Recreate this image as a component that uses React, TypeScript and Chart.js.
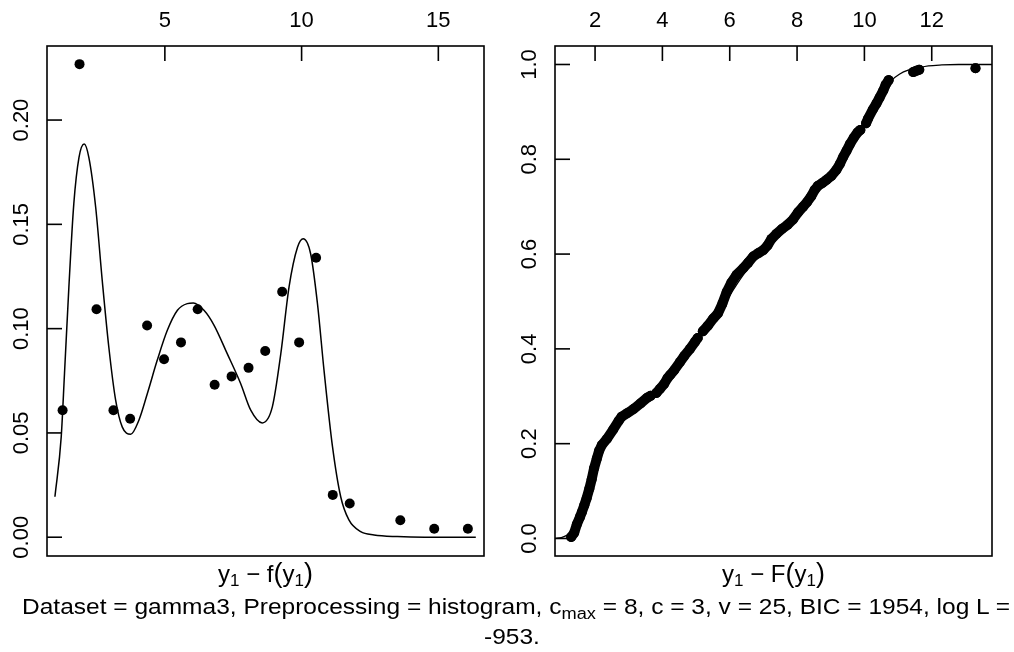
import React, { useEffect, useRef } from "react";
import { Chart, registerables } from "chart.js";

Chart.register(...registerables);

const FONT = '"Liberation Sans", Arial, Helvetica, sans-serif';

// ---------- Left panel: empirical density (histogram bin midpoints) ----------
const binX = [1.26, 1.88, 2.5, 3.12, 3.73, 4.35, 4.97, 5.59, 6.2, 6.82, 7.44, 8.06, 8.67, 9.29, 9.91, 10.53, 11.14, 11.76, 13.61, 14.85, 16.08];
const binY = [0.0609, 0.2268, 0.1093, 0.0609, 0.0568, 0.1015, 0.0853, 0.0934, 0.1093, 0.0731, 0.0771, 0.0812, 0.0893, 0.1177, 0.0934, 0.134, 0.0203, 0.0162, 0.0081, 0.0041, 0.0041];

// fitted mixture density f(y1)
const densX = [0.98, 1.21, 1.33, 1.49, 1.67, 1.86, 2.05, 2.22, 2.47, 2.71, 2.95, 3.2, 3.44, 3.75, 4.05, 4.36, 4.72, 5.09, 5.46, 5.82, 6.04, 6.43, 6.8, 7.28, 7.77, 8.14, 8.56, 8.93, 9.24, 9.54, 9.85, 10.06, 10.33, 10.58, 10.82, 11.13, 11.43, 11.73, 12.16, 12.65, 13.5, 14.5, 16.37];
const densY = [0.0194, 0.0481, 0.0785, 0.1199, 0.1598, 0.1821, 0.1885, 0.1821, 0.1582, 0.1231, 0.0912, 0.0657, 0.0529, 0.0494, 0.0561, 0.0689, 0.0848, 0.0992, 0.1088, 0.112, 0.1123, 0.1088, 0.1016, 0.088, 0.0737, 0.0609, 0.0548, 0.0625, 0.088, 0.1199, 0.139, 0.1431, 0.1359, 0.112, 0.08, 0.0434, 0.0194, 0.0083, 0.0027, 0.0011, 0.0003, 0.0, 0.0];

const leftXTicks = [5, 10, 15];
const leftXLabels = ["5", "10", "15"];
const leftYTicks = [0, 0.05, 0.1, 0.15, 0.2];
const leftYLabels = ["0.00", "0.05", "0.10", "0.15", "0.20"];

// ---------- Right panel: empirical CDF (null = gap between runs of points) ----------
const ecdfX = [
  1.29, 1.38, 1.46, 1.55, 1.61, 1.68, 1.75, 1.83, 1.9, 1.97, 2.05, 2.12, 2.2, 2.35, 2.54, 2.7, 2.79, 2.95, 3.14, 3.35, 3.55, 3.65, 3.7,
  3.82, 3.93, 4.05, 4.15, 4.23, 4.35, 4.52, 4.65, 4.82, 4.97, 5.05, 5.1,
  5.2, 5.35, 5.51, 5.65, 5.78, 5.91, 6.05, 6.2, 6.4, 6.55, 6.7, 6.85, 6.99, 7.12, 7.24, 7.39, 7.55, 7.72, 7.88, 8.03, 8.18, 8.3, 8.42, 8.52, 8.62, 8.75, 8.88, 9.02, 9.17, 9.27, 9.37, 9.47, 9.57, 9.68, 9.8, 9.88, 9.95,
  10.05, 10.11, 10.25, 10.36, 10.45, 10.56, 10.63, 10.72, 11.0,
  11.45, 11.55, 11.63, 12.0,
  13.3,
];
const ecdfY: (number | null)[] = [
  0.003, 0.012, 0.03, 0.045, 0.056, 0.07, 0.085, 0.105, 0.125, 0.148, 0.168, 0.185, 0.197, 0.21, 0.23, 0.248, 0.257, 0.264, 0.273, 0.285, 0.297, 0.301, null,
  0.307, 0.316, 0.326, 0.338, 0.345, 0.355, 0.372, 0.385, 0.4, 0.415, 0.423, null,
  0.437, 0.449, 0.464, 0.475, 0.495, 0.52, 0.54, 0.556, 0.57, 0.582, 0.595, 0.602, 0.608, 0.618, 0.632, 0.643, 0.653, 0.662, 0.673, 0.688, 0.7, 0.71, 0.722, 0.735, 0.744, 0.75, 0.757, 0.765, 0.778, 0.79, 0.805, 0.818, 0.832, 0.845, 0.857, 0.862, null,
  0.876, 0.886, 0.905, 0.918, 0.93, 0.945, 0.957, 0.967, null,
  0.984, 0.987, 0.989, null,
  0.992,
];

// fitted mixture CDF F(y1)
const cdfX = [0.81, 1.0, 1.2, 1.4, 1.6, 1.8, 2.0, 2.2, 2.4, 2.7, 3.0, 3.4, 3.8, 4.2, 4.6, 5.0, 5.4, 5.8, 6.2, 6.6, 7.0, 7.4, 7.8, 8.2, 8.6, 9.0, 9.4, 9.8, 10.2, 10.5, 10.8, 11.05, 11.3, 11.55, 11.9, 12.3, 12.8, 13.79];
const cdfY = [0.0, 0.002, 0.008, 0.02, 0.05, 0.095, 0.15, 0.195, 0.222, 0.25, 0.268, 0.29, 0.31, 0.34, 0.377, 0.415, 0.45, 0.49, 0.535, 0.575, 0.607, 0.637, 0.664, 0.695, 0.73, 0.77, 0.815, 0.857, 0.9, 0.935, 0.966, 0.98, 0.988, 0.992, 0.997, 0.999, 1.0, 1.0];

const rightXTicks = [2, 4, 6, 8, 10, 12];
const rightXLabels = ["2", "4", "6", "8", "10", "12"];
const rightYTicks = [0, 0.2, 0.4, 0.6, 0.8, 1.0];
const rightYLabels = ["0.0", "0.2", "0.4", "0.6", "0.8", "1.0"];

const zip = (xs: number[], ys: (number | null)[]) => xs.map((x, i) => ({ x, y: ys[i] }));

function makeAxisPlugin(xTicks: number[], xLabels: string[], yTicks: number[], yLabels: string[]) {
  return {
    id: "rAxes",
    afterDraw(chart: any) {
      const { ctx, chartArea: a, scales } = chart;
      ctx.save();
      ctx.strokeStyle = "#000";
      ctx.fillStyle = "#000";
      ctx.lineWidth = 1.6;
      ctx.strokeRect(a.left, a.top, a.right - a.left, a.bottom - a.top);
      ctx.font = `22px ${FONT}`;
      ctx.textAlign = "center";
      ctx.textBaseline = "middle";
      xTicks.forEach((v, i) => {
        const px = scales.x.getPixelForValue(v);
        ctx.beginPath();
        ctx.moveTo(px, a.top);
        ctx.lineTo(px, a.top + 15);
        ctx.stroke();
        ctx.fillText(xLabels[i], px, a.top - 25);
      });
      yTicks.forEach((v, i) => {
        const py = scales.y.getPixelForValue(v);
        ctx.beginPath();
        ctx.moveTo(a.left, py);
        ctx.lineTo(a.left + 15, py);
        ctx.stroke();
        ctx.save();
        ctx.translate(a.left - 25, py);
        ctx.rotate(-Math.PI / 2);
        ctx.fillText(yLabels[i], 0, 0);
        ctx.restore();
      });
      ctx.restore();
    },
  };
}

function baseOptions(pad: any, xmin: number, xmax: number, ymin: number, ymax: number) {
  return {
    animation: false,
    responsive: false,
    maintainAspectRatio: false,
    events: [],
    layout: { padding: pad },
    scales: {
      x: { type: "linear", min: xmin, max: xmax, display: false },
      y: { type: "linear", min: ymin, max: ymax, display: false },
    },
    plugins: { legend: { display: false }, tooltip: { enabled: false } },
  };
}

function DensityPanel() {
  const ref = useRef<HTMLCanvasElement>(null);
  useEffect(() => {
    const chart = new Chart(ref.current!, {
      type: "scatter",
      data: {
        datasets: [
          {
            data: zip(densX, densY),
            showLine: true,
            borderColor: "#000",
            borderWidth: 1.5,
            pointRadius: 0,
            cubicInterpolationMode: "monotone",
          },
          {
            data: zip(binX, binY),
            showLine: false,
            pointRadius: 5,
            pointBackgroundColor: "#000",
            pointBorderWidth: 0,
          },
        ],
      },
      options: baseOptions({ left: 47, top: 46, right: 23, bottom: 96 }, 0.69, 16.67, -0.009, 0.2355) as any,
      plugins: [makeAxisPlugin(leftXTicks, leftXLabels, leftYTicks, leftYLabels)],
    } as any);
    return () => chart.destroy();
  }, []);
  return <canvas ref={ref} width={507} height={652} style={{ position: "absolute", left: 0, top: 0 }} />;
}

function CdfPanel() {
  const ref = useRef<HTMLCanvasElement>(null);
  useEffect(() => {
    const chart = new Chart(ref.current!, {
      type: "scatter",
      data: {
        datasets: [
          {
            data: zip(cdfX, cdfY),
            showLine: true,
            borderColor: "#000",
            borderWidth: 1.3,
            pointRadius: 0,
            cubicInterpolationMode: "monotone",
          },
          {
            data: zip(ecdfX, ecdfY),
            showLine: true,
            spanGaps: false,
            borderColor: "#000",
            borderWidth: 10,
            borderCapStyle: "round",
            borderJoinStyle: "round",
            pointRadius: 5,
            pointBackgroundColor: "#000",
            pointBorderWidth: 0,
          },
        ],
      },
      options: baseOptions({ left: 48, top: 46, right: 22, bottom: 96 }, 0.81, 13.79, -0.037, 1.039) as any,
      plugins: [makeAxisPlugin(rightXTicks, rightXLabels, rightYTicks, rightYLabels)],
    } as any);
    return () => chart.destroy();
  }, []);
  return <canvas ref={ref} width={507} height={652} style={{ position: "absolute", left: 507, top: 0 }} />;
}

const subStyle: React.CSSProperties = { fontSize: "17px", position: "relative", top: "4px" };

function AxisTitle({ cx, fn }: { cx: number; fn: string }) {
  return (
    <div
      style={{
        position: "absolute",
        left: cx,
        top: 559,
        transform: "translateX(-50%)",
        font: `24px ${FONT}`,
        lineHeight: "28px",
        whiteSpace: "nowrap",
      }}
    >
      y<span style={subStyle}>1</span> − {fn}
      <span style={{ fontSize: "27px" }}>(</span>y<span style={subStyle}>1</span>
      <span style={{ fontSize: "27px" }}>)</span>
    </div>
  );
}

const captionStyle: React.CSSProperties = {
  position: "absolute",
  transform: "translateX(-50%) scaleX(1.14)",
  font: `21.5px ${FONT}`,
  lineHeight: "26px",
  whiteSpace: "nowrap",
};

export default function App() {
  return (
    <div style={{ position: "fixed", left: 0, top: 0, width: 1014, height: 652, background: "#fff", overflow: "hidden" }}>
      <DensityPanel />
      <CdfPanel />
      <AxisTitle cx={265.5} fn="f" />
      <AxisTitle cx={773.5} fn="F" />
      <div style={{ ...captionStyle, left: 516, top: 594 }}>
        Dataset = gamma3, Preprocessing = histogram, c<span style={{ fontSize: "16px", position: "relative", top: "5px" }}>max</span> = 8, c = 3, v = 25, BIC = 1954, log L =
      </div>
      <div style={{ ...captionStyle, left: 512, top: 624 }}>-953.</div>
    </div>
  );
}
